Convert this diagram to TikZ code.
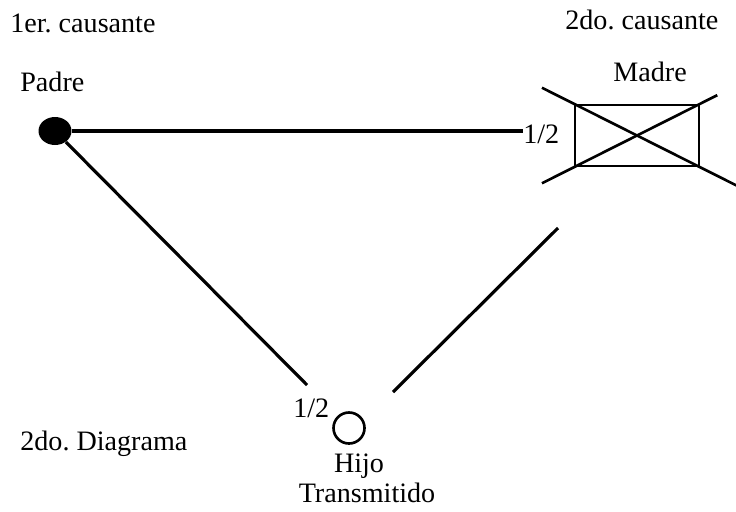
\documentclass[tikz,border=0pt]{standalone}
\usepackage{fontspec}
\setmainfont{Liberation Serif}
\usetikzlibrary{shapes.geometric}
\frenchspacing

\begin{document}
\begin{tikzpicture}[
    x=0.02cm, y=-0.02cm,
    font=\fontsize{16}{19}\selectfont,
    txt/.style={
        anchor=base west,
        inner sep=0pt
    },
    txtc/.style={
        anchor=base,
        inner sep=0pt
    },
    link/.style={
        line width=1.8pt
    }
]
\useasboundingbox (0,0) rectangle (736,511);

% Causantes
\node[txt] (t1) at (10,32) {1er. causante};
\node[txt] (t2) at (565,29) {2do. causante};

% Padre
\node[txt] (lpadre) at (20,91) {Padre};
\node[ellipse, fill=black, minimum width=0.66cm, minimum height=0.56cm, inner sep=0pt] (padre) at (55,131) {};

% Madre
\node[txt] (lmadre) at (613,81) {Madre};
\node[rectangle, draw, line width=1.5pt, minimum width=2.48cm, minimum height=1.22cm, inner sep=0pt] (madre) at (637,135.5) {};
\draw[line width=1.5pt, shorten <=-0.71cm, shorten >=-0.82cm] (madre.north west) -- (madre.south east);
\draw[line width=1.5pt, shorten <=-0.71cm, shorten >=-0.38cm] (madre.south west) -- (madre.north east);
\node[txt] (hm) at (523,143) {1/2};

% Hijo
\node[circle, draw, line width=1.5pt, minimum size=0.62cm, inner sep=0pt] (hijo) at (349,428) {};
\node[txt] (hh) at (293,417) {1/2};
\node[txtc] (lhijo) at (359,472) {Hijo};
\node[txtc] (ltrans) at (367,502) {Transmitido};

% Diagrama
\node[txt] (diag) at (20,450) {2do. Diagrama};

% Lines
\coordinate (ca) at (307,385);
\coordinate (cb) at (558,228);
\coordinate (cc) at (393,392);
\draw[link] (padre) -- (padre -| hm.west);
\draw[link] (padre) -- (ca);
\draw[link] (cb) -- (cc);

\end{tikzpicture}
\end{document}
